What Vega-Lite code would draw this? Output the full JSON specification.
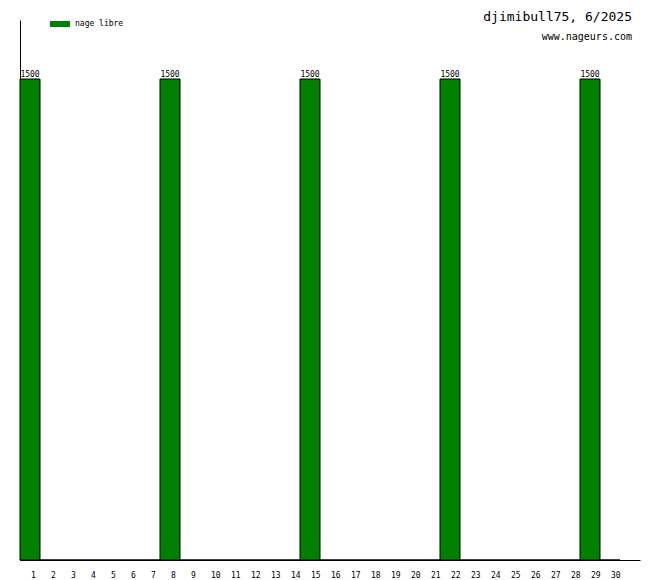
{
  "$schema": "https://vega.github.io/schema/vega-lite/v6.json",
  "width": 620,
  "height": 540,
  "autosize": {"type": "none"},
  "padding": {"left": 20, "top": 20, "right": 20, "bottom": 20},
  "background": "white",
  "config": {"view": {"stroke": null}, "font": "DejaVu Sans Mono"},
  "title": {
    "text": "djimibull75, 6/2025",
    "subtitle": "www.nageurs.com",
    "anchor": "end",
    "frame": "group",
    "orient": "top",
    "offset": -28,
    "dx": -8,
    "font": "DejaVu Sans Mono",
    "fontSize": 13,
    "fontWeight": "normal",
    "color": "black",
    "subtitleFont": "DejaVu Sans Mono",
    "subtitleFontSize": 10,
    "subtitleColor": "black",
    "subtitlePadding": 8
  },
  "data": {
    "values": [
      {"day": 1, "distance": 1500, "type": "nage libre"},
      {"day": 2, "distance": 0, "type": "nage libre"},
      {"day": 3, "distance": 0, "type": "nage libre"},
      {"day": 4, "distance": 0, "type": "nage libre"},
      {"day": 5, "distance": 0, "type": "nage libre"},
      {"day": 6, "distance": 0, "type": "nage libre"},
      {"day": 7, "distance": 0, "type": "nage libre"},
      {"day": 8, "distance": 1500, "type": "nage libre"},
      {"day": 9, "distance": 0, "type": "nage libre"},
      {"day": 10, "distance": 0, "type": "nage libre"},
      {"day": 11, "distance": 0, "type": "nage libre"},
      {"day": 12, "distance": 0, "type": "nage libre"},
      {"day": 13, "distance": 0, "type": "nage libre"},
      {"day": 14, "distance": 0, "type": "nage libre"},
      {"day": 15, "distance": 1500, "type": "nage libre"},
      {"day": 16, "distance": 0, "type": "nage libre"},
      {"day": 17, "distance": 0, "type": "nage libre"},
      {"day": 18, "distance": 0, "type": "nage libre"},
      {"day": 19, "distance": 0, "type": "nage libre"},
      {"day": 20, "distance": 0, "type": "nage libre"},
      {"day": 21, "distance": 0, "type": "nage libre"},
      {"day": 22, "distance": 1500, "type": "nage libre"},
      {"day": 23, "distance": 0, "type": "nage libre"},
      {"day": 24, "distance": 0, "type": "nage libre"},
      {"day": 25, "distance": 0, "type": "nage libre"},
      {"day": 26, "distance": 0, "type": "nage libre"},
      {"day": 27, "distance": 0, "type": "nage libre"},
      {"day": 28, "distance": 0, "type": "nage libre"},
      {"day": 29, "distance": 1500, "type": "nage libre"},
      {"day": 30, "distance": 0, "type": "nage libre"}
    ]
  },
  "encoding": {
    "x": {
      "field": "day",
      "type": "ordinal",
      "scale": {
        "domain": [1,2,3,4,5,6,7,8,9,10,11,12,13,14,15,16,17,18,19,20,21,22,23,24,25,26,27,28,29,30,31],
        "paddingInner": 0,
        "paddingOuter": 0
      },
      "axis": {
        "title": null,
        "labelAngle": 0,
        "ticks": false,
        "tickSize": 0,
        "labelPadding": 11,
        "labelBaseline": "top",
        "labelFont": "DejaVu Sans Mono",
        "labelFontSize": 8,
        "labelColor": "black",
        "labelAlign": "left",
        "labelOffset": 1,
        "labelExpr": "datum.value == 31 ? '' : datum.label",
        "domainColor": "black",
        "domainWidth": 1,
        "grid": false
      }
    },
    "y": {
      "field": "distance",
      "type": "quantitative",
      "scale": {"domain": [0, 1684], "nice": false},
      "axis": {
        "title": null,
        "labels": false,
        "ticks": false,
        "grid": false,
        "domainColor": "black",
        "domainWidth": 1
      }
    }
  },
  "layer": [
    {
      "mark": {"type": "bar", "stroke": "black", "strokeWidth": 1},
      "encoding": {
        "color": {
          "field": "type",
          "type": "nominal",
          "scale": {"range": ["#008000"]},
          "legend": {
            "title": null,
            "orient": "none",
            "legendX": 30,
            "legendY": -6,
            "padding": 0,
            "symbolType": "M-1,-0.3H1V0.3H-1Z",
            "symbolSize": 400,
            "symbolStrokeWidth": 0,
            "symbolFillColor": "#008000",
            "labelFont": "DejaVu Sans Mono",
            "labelFontSize": 8,
            "labelColor": "black",
            "labelOffset": 5
          }
        }
      }
    },
    {
      "transform": [{"filter": "datum.distance > 0"}],
      "mark": {
        "type": "text",
        "baseline": "alphabetic",
        "dy": -2,
        "font": "DejaVu Sans Mono",
        "fontSize": 8,
        "color": "black"
      },
      "encoding": {"text": {"field": "distance", "type": "quantitative"}}
    }
  ]
}
